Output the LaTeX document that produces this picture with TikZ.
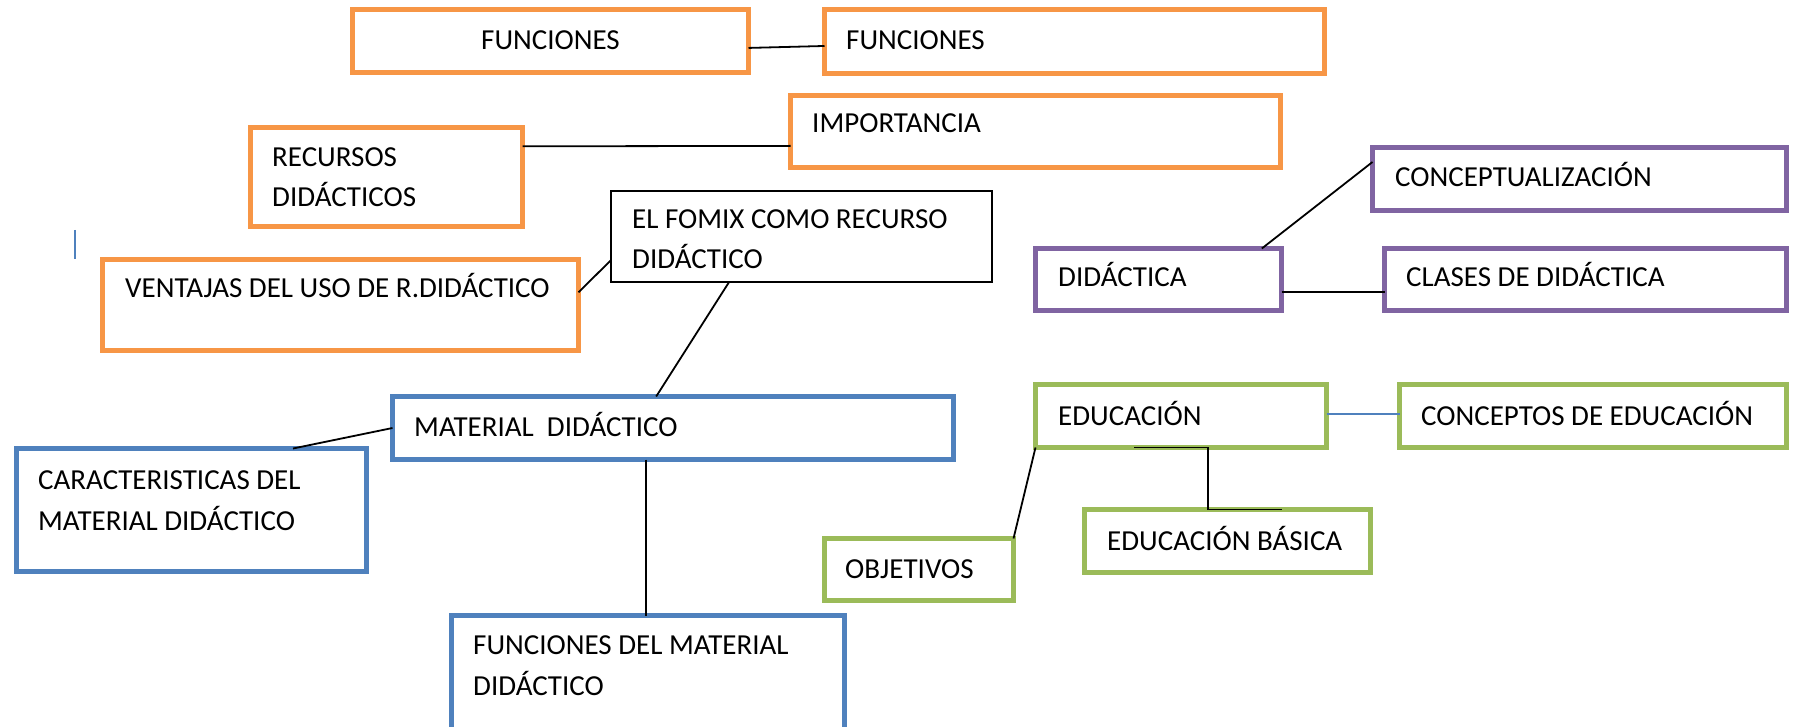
\documentclass[tikz,border=0pt]{standalone}
\usepackage{fontspec}
\setmainfont{Carlito}
\usetikzlibrary{calc}
\definecolor{naranja}{HTML}{F79646}
\definecolor{azul}{HTML}{4F81BD}
\definecolor{verde}{HTML}{9BBB59}
\definecolor{morado}{HTML}{8064A2}
\begin{document}
\begin{tikzpicture}[x=1pt,y=-1pt,
  caja/.style={rectangle,draw,line width=5pt,inner sep=0pt,outer sep=0pt,anchor=north west},
  caja naranja/.style={caja,draw=naranja},
  caja azul/.style={caja,draw=azul},
  caja verde/.style={caja,draw=verde},
  caja morado/.style={caja,draw=morado},
  caja negra/.style={caja,draw=black,line width=2pt},
  texto/.style={font=\fontsize{29}{40.5}\selectfont,anchor=base west,inner sep=0pt,align=left},
  linea/.style={line width=1.8pt}]
\useasboundingbox (0,0) rectangle (1796,727);

\node[caja naranja,minimum width=396,minimum height=63] (fun1) at (352.5,9.5) {};
\node[caja naranja,minimum width=500,minimum height=64] (fun2) at (824.5,9.5) {};
\node[caja naranja,minimum width=490,minimum height=72] (imp) at (790.5,95.5) {};
\node[caja naranja,minimum width=272,minimum height=99] (rec) at (250.5,127.5) {};
\node[caja negra,minimum width=381,minimum height=91] (fomix) at (611,191) {};
\node[caja naranja,minimum width=476,minimum height=91] (ven) at (102.5,259.5) {};
\node[caja azul,minimum width=561,minimum height=63] (mat) at (392.5,396.5) {};
\node[caja azul,minimum width=350,minimum height=123] (car) at (16.5,448.5) {};
\node[caja azul,minimum width=393,minimum height=120] (funmat) at (451.5,615.5) {};
\node[caja verde,minimum width=189,minimum height=62] (obj) at (824.5,538.5) {};
\node[caja verde,minimum width=291,minimum height=63] (edu) at (1035.5,384.5) {};
\node[caja verde,minimum width=387,minimum height=63] (con) at (1399.5,384.5) {};
\node[caja verde,minimum width=286,minimum height=63] (edb) at (1084.5,509.5) {};
\node[caja morado,minimum width=414,minimum height=63] (conc) at (1372.5,147.5) {};
\node[caja morado,minimum width=246,minimum height=62] (did) at (1035.5,248.5) {};
\node[caja morado,minimum width=402,minimum height=62] (cla) at (1384.5,248.5) {};

\node[texto] (t-fun1) at (481,50) {FUNCIONES};
\node[texto] (t-fun2) at (846,50) {FUNCIONES};
\node[texto] (t-imp) at (812,133) {IMPORTANCIA};
\node[texto] (t-rec) at (272,207) {RECURSOS\\DIDÁCTICOS};
\node[texto] (t-fomix) at (632,269) {EL FOMIX COMO RECURSO\\DIDÁCTICO};
\node[texto] (t-ven) at (125,298) {VENTAJAS DEL USO DE R.DIDÁCTICO};
\node[texto] (t-mat) at (414,436) {MATERIAL\ \ DIDÁCTICO};
\node[texto] (t-car) at (38,530) {CARACTERISTICAS DEL\\MATERIAL DIDÁCTICO};
\node[texto] (t-funmat) at (473,695) {FUNCIONES DEL MATERIAL\\DIDÁCTICO};
\node[texto] (t-obj) at (845,578) {OBJETIVOS};
\node[texto] (t-edu) at (1058,425) {EDUCACIÓN};
\node[texto] (t-con) at (1421,425) {CONCEPTOS DE EDUCACIÓN};
\node[texto] (t-edb) at (1107,550) {EDUCACIÓN BÁSICA};
\node[texto] (t-conc) at (1395,187) {CONCEPTUALIZACIÓN};
\node[texto] (t-did) at (1058,287) {DIDÁCTICA};
\node[texto] (t-cla) at (1406,287) {CLASES DE DIDÁCTICA};

\draw[linea] ($(fun1.north east)!.61!(fun1.south east)$) -- ($(fun2.north west)!.57!(fun2.south west)$);
\draw[linea] ($(rec.north east)!.19!(rec.south east)$) -- ($(imp.north west)!.70!(imp.south west)$);
\draw[linea] ($(ven.north east)!.36!(ven.south east)$) -- ($(fomix.north west)!.76!(fomix.south west)$);
\draw[linea] ($(fomix.south west)!.31!(fomix.south east)$) -- ($(mat.north west)!.47!(mat.north east)$);
\draw[linea] (mat.west) -- ($(car.north west)!.79!(car.north east)$);
\coordinate (m1) at ($(mat.south west)!.452!(mat.south east)$);
\draw[linea] (m1) -- (m1 |- funmat.north);
\draw[linea] ($(did.north west)!.92!(did.north east)$) -- ($(conc.north west)!.23!(conc.south west)$);
\draw[linea] ($(did.north east)!.70!(did.south east)$) -- ($(cla.north west)!.70!(cla.south west)$);
\draw[linea,draw=azul] ($(edu.north east)!.47!(edu.south east)$) -- ($(con.north west)!.47!(con.south west)$);
\coordinate (e1) at ($(edu.south west)!.34!(edu.south east)$);
\coordinate (e2) at ($(edb.north west)!.69!(edb.north east)$);
\draw[linea] (e1) -| ($(e1)!.5!(e2)$) |- (e2);
\draw[linea] (edu.south west) -- (obj.north east);

\draw[azul,line width=1.5pt] (75,230) -- (75,259);
\end{tikzpicture}
\end{document}
